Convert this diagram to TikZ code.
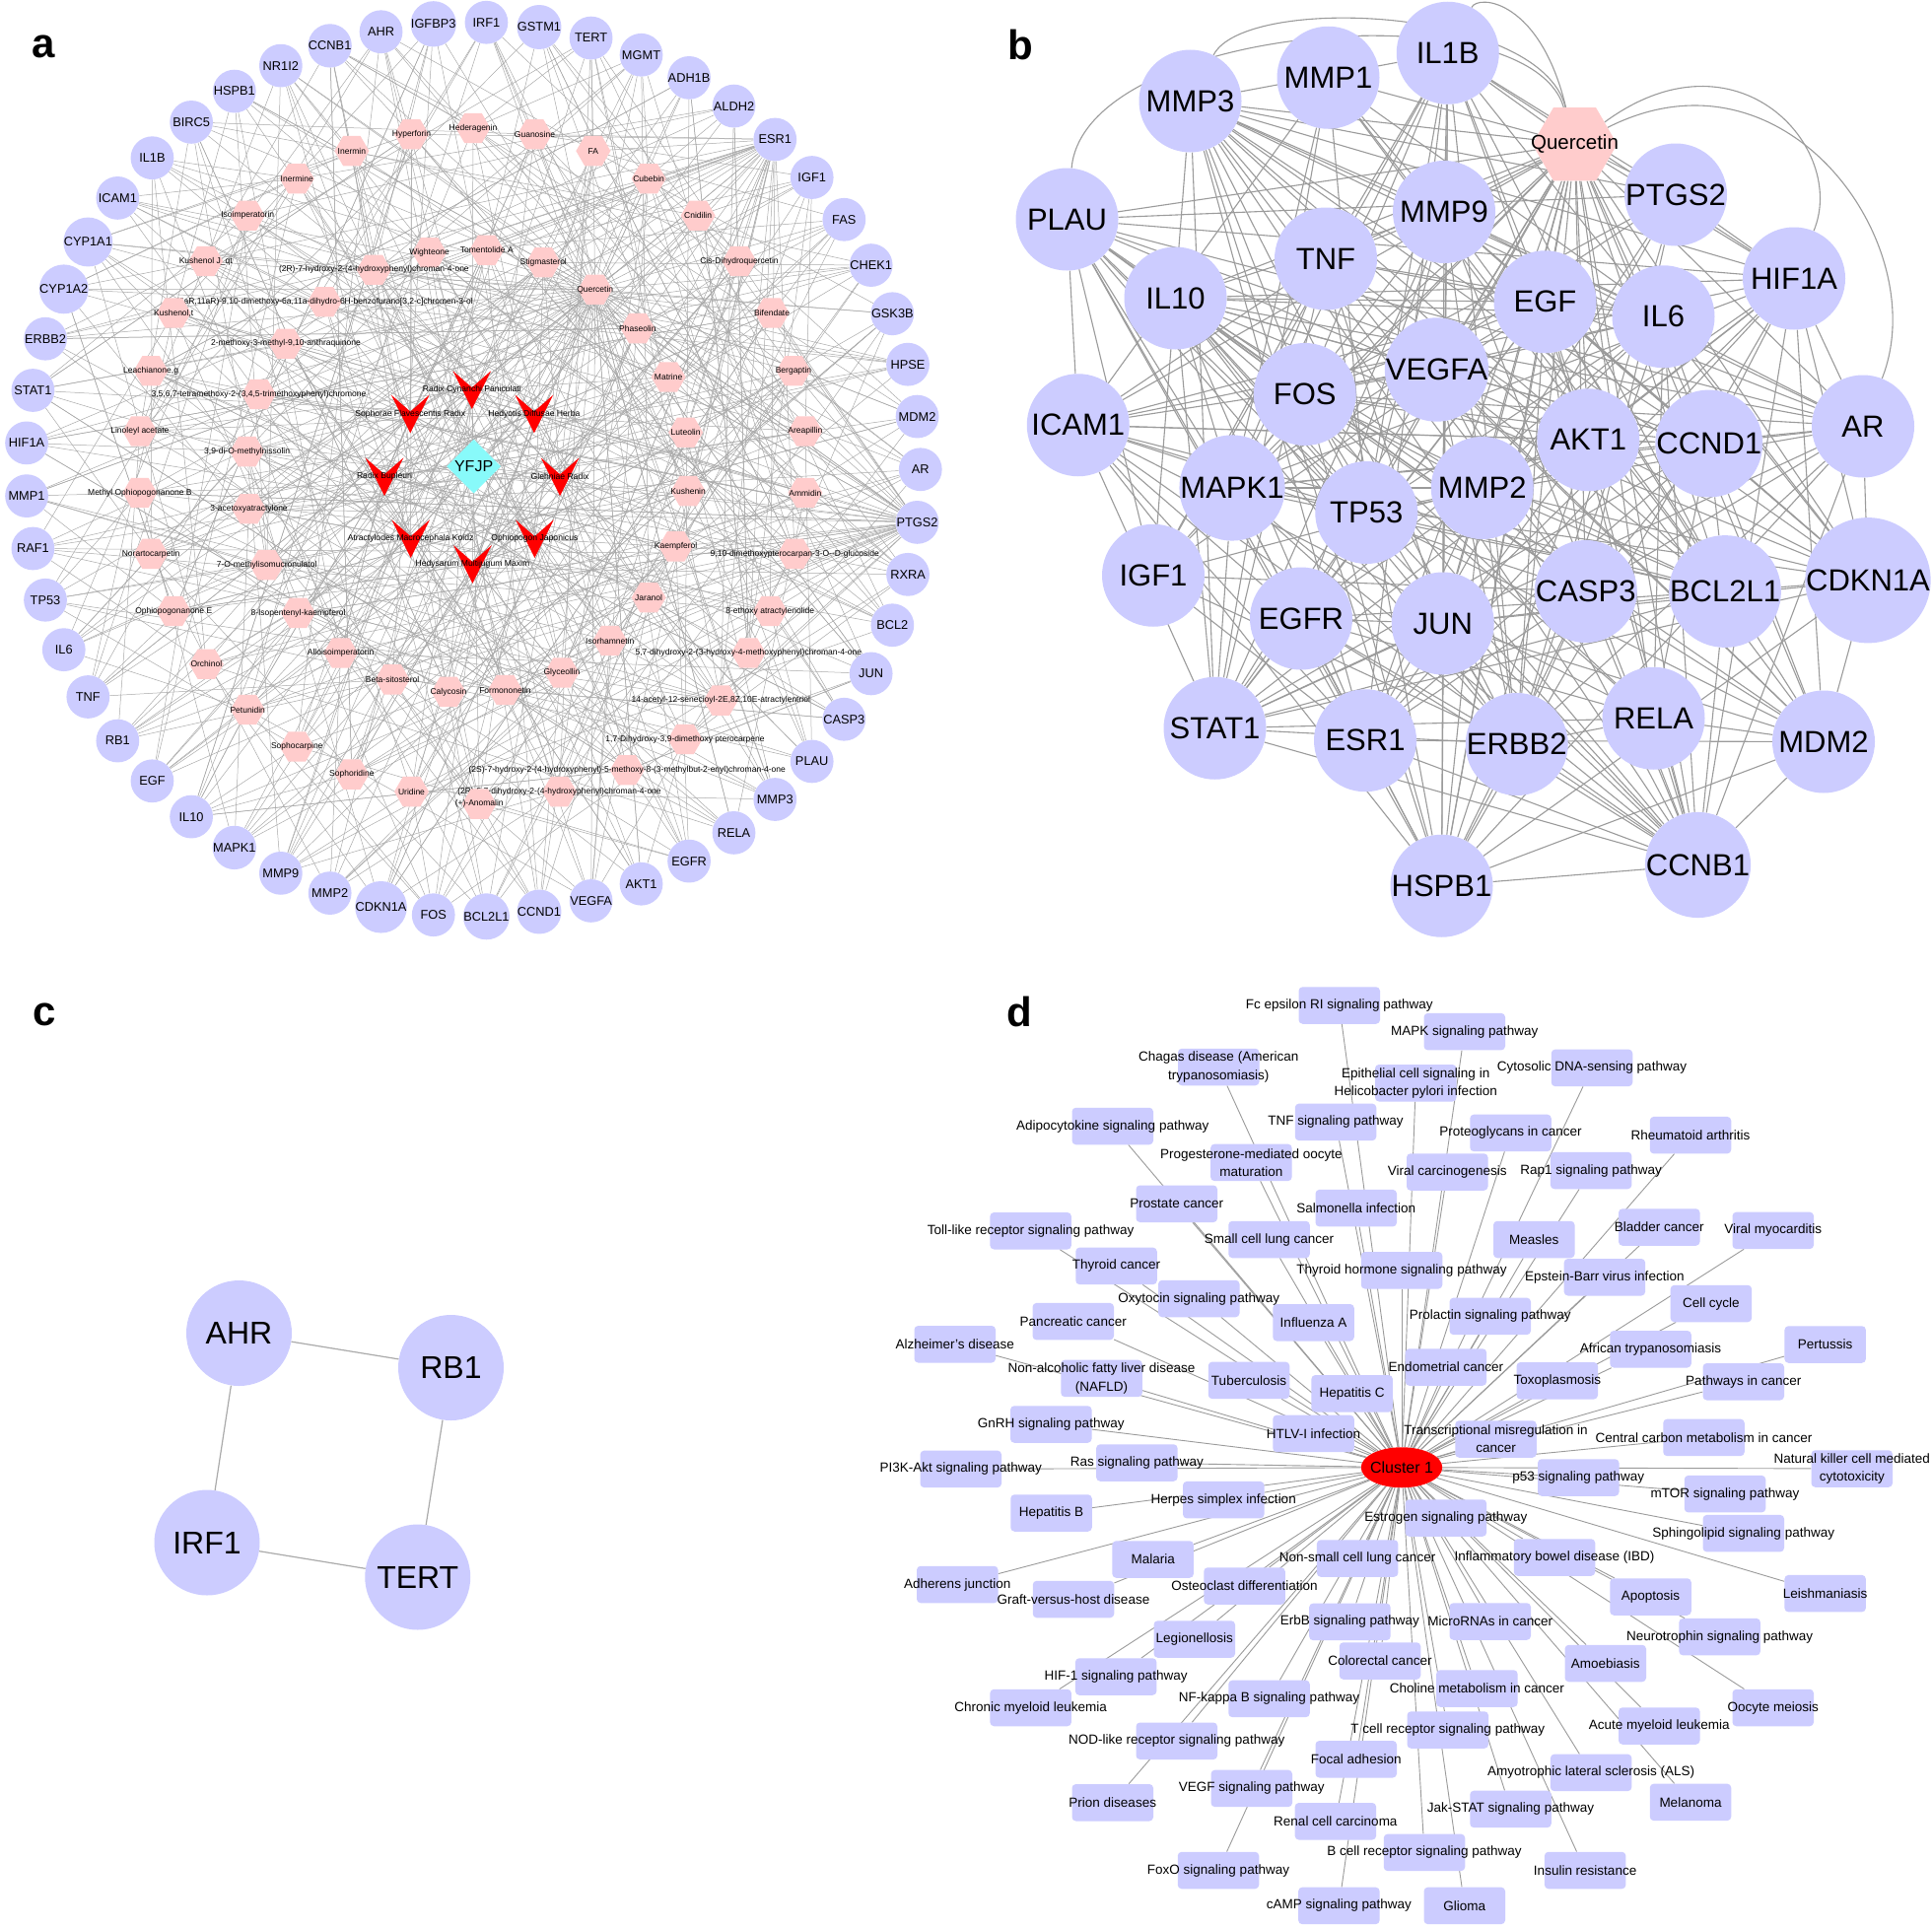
\documentclass[tikz,border=0pt]{standalone}
\usepackage{fontspec}
\setmainfont{Liberation Sans}
\usetikzlibrary{shapes.geometric,backgrounds}
\definecolor{lav}{RGB}{204,204,255}
\definecolor{pnk}{RGB}{255,204,204}
\definecolor{cyn}{RGB}{136,250,250}
\definecolor{hred}{RGB}{255,0,0}
\definecolor{egray}{RGB}{170,170,170}
\definecolor{bgray}{RGB}{155,155,155}
\begin{document}
\begin{tikzpicture}[x=1.25pt,y=-1.25pt,
  tnode/.style={circle,fill=lav,minimum size=43.75pt,inner sep=0pt,font=\fontsize{12.8}{13}\selectfont},
  hexa/.style={regular polygon,regular polygon sides=6,fill=pnk,minimum size=35pt,inner sep=0pt},
  clbl/.style={font=\fontsize{8.5}{9}\selectfont,inner sep=0pt},
  hlbl/.style={font=\fontsize{8.6}{9}\selectfont,inner sep=0pt},
  aedge/.style={draw=egray,line width=0.5pt},
  bnode/.style={circle,fill=lav,minimum size=104pt,inner sep=0pt,font=\fontsize{31}{32}\selectfont},
  bedge/.style={draw=bgray,line width=1.1pt},
  cnode/.style={circle,fill=lav,minimum size=107pt,inner sep=0pt,font=\fontsize{32}{33}\selectfont},
  cedge/.style={draw=egray,line width=1.2pt},
  dbox/.style={rectangle,rounded corners=4pt,fill=lav,minimum width=82.5pt,minimum height=37.5pt,inner sep=0pt},
  dlbl/.style={font=\fontsize{13.5}{18.3}\selectfont,align=center,inner sep=0pt},
  dedge/.style={draw=bgray,line width=0.9pt},
  plbl/.style={font=\fontsize{42}{42}\selectfont\bfseries,anchor=base west,inner sep=0pt}
]
\useasboundingbox (0,0) rectangle (1568,1565);
\begin{pgfonlayer}{background}
\fill[white] (0,0) rectangle (1568,1565);
\end{pgfonlayer}

% ---------- panel letters
\node[plbl] (la) at (26,47) {a};
\node[plbl] (lb) at (818,48) {b};
\node[plbl] (lc) at (27,832) {c};
\node[plbl] (ld) at (817,833) {d};

% ---------- panel a : targets
\foreach \n [count=\k from 0] in {AR,MDM2,HPSE,GSK3B,CHEK1,FAS,IGF1,ESR1,ALDH2,ADH1B,MGMT,TERT,GSTM1,IRF1,IGFBP3,AHR,CCNB1,NR1I2,HSPB1,BIRC5,IL1B,ICAM1,CYP1A1,CYP1A2,ERBB2,STAT1,HIF1A,MMP1,RAF1,TP53,IL6,TNF,RB1,EGF,IL10,MAPK1,MMP9,MMP2,CDKN1A,FOS,BCL2L1,CCND1,VEGFA,AKT1,EGFR,RELA,MMP3,PLAU,CASP3,JUN,BCL2,RXRA,PTGS2}{
  \pgfmathsetmacro\ang{\k*6.792453}
  \node[tnode] (t\k) at ({384+363*cos(\ang)},{381-363*sin(\ang)}) {\n};
}

% ---------- panel a : compounds
\foreach \x/\y/\lab [count=\k] in {
334/109/{Hyperforin},
384/104/{Hederagenin},
434/109/{Guanosine},
481.5/122.5/{FA},
285.5/122.5/{Inermin},
241/145/{Inermine},
526.5/145/{Cubebin},
201/175/{Isoimperatorin},
566.5/175/{Cnidilin},
348.5/205/{Wighteone},
395/203/{Tomentolide A},
441/213/{Stigmasterol},
167/212/{Kushenol J\_qt},
303.5/219/{(2R)-7-hydroxy-2-(4-hydroxyphenyl)chroman-4-one},
600/212/{Cis-Dihydroquercetin},
483/235/{Quercetin},
263.5/245/{(6aR,11aR)-9,10-dimethoxy-6a,11a-dihydro-6H-benzofurano[3,2-c]chromen-3-ol},
141/254/{Kushenol,t},
626.5/254/{Bifendate},
517.5/266.5/{Phaseolin},
232/279/{2-methoxy-3-methyl-9,10-anthraquinone},
122.5/301/{Leachianone,g},
644/301/{Bergaptin},
542.5/306/{Matrine},
210/320/{3,5,6,7-tetramethoxy-2-(3,4,5-trimethoxyphenyl)chromone},
113.5/350/{Linoleyl acetate},
556.5/351/{Luteolin},
653.5/350/{Areapillin},
200.5/366.5/{3,9-di-O-methylnissolin},
113.5/400/{Methyl Ophiopogonanone B},
558.5/398.5/{Kushenin},
653.5/400/{Ammidin},
202/413/{3-acetoxyatractylone},
122.5/449.5/{Norartocarpetin},
548.5/443.5/{Kaempferol},
645/449.5/{9,10-dimethoxypterocarpan-3-O-{}-D-glucoside},
216.5/458.5/{7-O-methylisomucronulatol},
526.5/485/{Jaranol},
141/496/{Ophiopogonanone E},
242/497.5/{8-Isopentenyl-kaempferol},
625/496/{8-ethoxy atractylenolide},
495/520/{Isorhamnetin},
276.5/530/{Alloisoimperatorin},
607.5/530/{5,7-dihydroxy-2-(3-hydroxy-4-methoxyphenyl)chroman-4-one},
167.5/539/{Orchinol},
318.5/551.5/{Beta-sitosterol},
456/546/{Glyceollin},
364/561.5/{Calycosin},
410/560/{Formononetin},
585/568.5/{14-acetyl-12-senecioyl-2E,8Z,10E-atractylentriol},
201/576/{Petunidin},
556/600/{1,7-Dihydroxy-3,9-dimethoxy pterocarpene},
241/606/{Sophocarpine},
509/625/{(2S)-7-hydroxy-2-(4-hydroxyphenyl)-5-methoxy-8-(3-methylbut-2-enyl)chroman-4-one},
285.5/628.5/{Sophoridine},
334/642.5/{Uridine},
454/642.5/{(2R)-5,7-dihydroxy-2-(4-hydroxyphenyl)chroman-4-one},
389/652.5/{(+)-Anomalin}}{
  \node[hexa,label={[clbl]center:\lab}] (c\k) at (\x,\y) {};
}

% ---------- panel a : herbs and formula
\node[diamond,fill=cyn,minimum width=55pt,minimum height=55pt,inner sep=0pt,
      label={[font=\fontsize{16}{16}\selectfont,inner sep=0pt]center:YFJP}] (yfjp) at (384.5,378.5) {};
\foreach \n/\x/\y/\lab in {
h1/383/316.5/{Radix Cynanchi Paniculati},
h2/333/336/{Sophorae Flavescentis Radix},
h3/433.5/336/{Hedyotis Diffusae Herba},
h4/312/387/{Radix Bupleuri},
h5/454.5/387/{Glehniae Radix},
h6/333.3/437.3/{Atractylodes Macrocephala Koidz},
h7/433.9/437.3/{Ophiopogon Japonicus},
h8/383.5/458/{Hedysarum Multijugum Maxim}}{
  \coordinate (\n) at (\x,\y);
  \fill[hred,shift={(\n)}] (-15.5,-15.5) -- (0,-2) -- (15.5,-15.5) -- (0,15.5) -- cycle;
  \node[hlbl] (l\n) at (\n) {\lab};
}

% ---------- panel b
\node[regular polygon,regular polygon sides=6,fill=pnk,minimum size=86pt,inner sep=0pt,
      label={[font=\fontsize{20.5}{21}\selectfont,inner sep=0pt]center:Quercetin}] (bq) at (1278,117) {};
\foreach \n/\x/\y [count=\k] in {MMP3/966/82,MMP1/1078/63,IL1B/1175/43,PTGS2/1360/158,PLAU/866/178,
  MMP9/1172/172,TNF/1076/210,IL10/954/242,EGF/1254/245,IL6/1350/257,HIF1A/1456/226,FOS/1059/320,
  VEGFA/1166/300,ICAM1/875/345,AKT1/1289/357,CCND1/1387/360,AR/1512/346,MAPK1/1000/396,TP53/1109/416,
  MMP2/1203/396,IGF1/936/467,CASP3/1287/480,BCL2L1/1400/480,CDKN1A/1516/471,EGFR/1056/502,JUN/1171/506,
  STAT1/986/591,ESR1/1108/601,ERBB2/1231/604,RELA/1342/583,MDM2/1480/602,HSPB1/1170/719,CCNB1/1378/702}{
  \node[bnode] (b\k) at (\x,\y) {\n};
}

% ---------- panel c
\node[cnode] (cAHR) at (194,1082) {AHR};
\node[cnode] (cRB1) at (366,1110) {RB1};
\node[cnode] (cIRF1) at (168,1252) {IRF1};
\node[cnode] (cTERT) at (339,1280) {TERT};

% ---------- panel d
\node[ellipse,fill=hred,minimum width=82.5pt,minimum height=41pt,inner sep=0pt,
      label={[font=\fontsize{16}{16}\selectfont,inner sep=0pt]center:Cluster 1}] (cl) at (1137.6,1191) {};
\foreach \x/\y/\lab [count=\k] in {
1087/816/{Fc epsilon RI signaling pathway},
989/866/{Chagas disease (American\\trypanosomiasis)},
903/914/{Adipocytokine signaling pathway},
1015.5/943.5/{Progesterone-mediated oocyte\\maturation},
955/977/{Prostate cancer},
836.5/999/{Toll-like receptor signaling pathway},
1030/1006/{Small cell lung cancer},
906/1027.5/{Thyroid cancer},
973/1054/{Oxytocin signaling pathway},
871/1072.5/{Pancreatic cancer},
1066/1073.4/{Influenza A},
775/1091/{Alzheimer's disease},
894/1118.7/{Non-alcoholic fatty liver disease\\(NAFLD)},
1013.6/1120.3/{Tuberculosis},
1097.3/1131/{Hepatitis C},
853/1156/{GnRH signaling pathway},
1066/1163.5/{HTLV-I infection},
1149/879/{Epithelial cell signaling in\\Helicobacter pylori infection},
1084/910.7/{TNF signaling pathway},
1100.6/980.5/{Salmonella infection},
1137.6/1031/{Thyroid hormone signaling pathway},
1188.6/837.3/{MAPK signaling pathway},
1292/866.7/{Cytosolic DNA-sensing pathway},
1226/919.5/{Proteoglycans in cancer},
1372/921.3/{Rheumatoid arthritis},
1174.6/951.2/{Viral carcinogenesis},
1291.3/950/{Rap1 signaling pathway},
1245/1006/{Measles},
1346.6/996/{Bladder cancer},
1439/998.7/{Viral myocarditis},
1302.3/1036.6/{Epstein-Barr virus infection},
1388.7/1058/{Cell cycle},
1209.4/1068.3/{Prolactin signaling pathway},
1173.5/1109.6/{Endometrial cancer},
1339.6/1095/{African trypanosomiasis},
1481.3/1091.2/{Pertussis},
1263.8/1120.6/{Toxoplasmosis},
1415/1121.4/{Pathways in cancer},
1214/1168/{Transcriptional misregulation in\\cancer},
1382.8/1166.7/{Central carbon metabolism in cancer},
779.8/1192.3/{PI3K-Akt signaling pathway},
922.7/1187.2/{Ras signaling pathway},
853.2/1228/{Hepatitis B},
993/1217.3/{Herpes simplex infection},
935.7/1265.6/{Malaria},
777/1286/{Adherens junction},
871.2/1298/{Graft-versus-host disease},
1010/1287.2/{Osteoclast differentiation},
1101.7/1264.8/{Non-small cell lung cancer},
1095.5/1316.3/{ErbB signaling pathway},
969.4/1330.4/{Legionellosis},
1120/1348/{Colorectal cancer},
905.7/1360.8/{HIF-1 signaling pathway},
836.5/1386/{Chronic myeloid leukemia},
1030/1378.7/{NF-kappa B signaling pathway},
955/1413/{NOD-like receptor signaling pathway},
903/1463/{Prion diseases},
1015.8/1451.5/{VEGF signaling pathway},
1100.6/1427.8/{Focal adhesion},
1083.9/1478.2/{Renal cell carcinoma},
988.8/1518/{FoxO signaling pathway},
1086.7/1546.7/{cAMP signaling pathway},
1175/1404/{T cell receptor signaling pathway},
1503/1192/{Natural killer cell mediated\\cytotoxicity},
1281/1199.2/{p53 signaling pathway},
1400/1212.5/{mTOR signaling pathway},
1415/1244.5/{Sphingolipid signaling pathway},
1173.5/1232/{Estrogen signaling pathway},
1261.6/1264/{Inflammatory bowel disease (IBD)},
1481.3/1293.3/{Leishmaniasis},
1339.6/1296/{Apoptosis},
1209.4/1316/{MicroRNAs in cancer},
1395.7/1328.5/{Neurotrophin signaling pathway},
1303/1350/{Amoebiasis},
1198.7/1370.4/{Choline metabolism in cancer},
1439/1386/{Oocyte meiosis},
1346.6/1400.8/{Acute myeloid leukemia},
1291.3/1438.7/{Amyotrophic lateral sclerosis (ALS)},
1372/1462.7/{Melanoma},
1226/1468.3/{Jak-STAT signaling pathway},
1156/1503.5/{B cell receptor signaling pathway},
1286.5/1518/{Insulin resistance},
1188.6/1546.7/{Glioma}}{
  \node[dbox,label={[dlbl]center:\lab}] (d\k) at (\x,\y) {};
}

% ================= connectors (behind nodes)
\begin{pgfonlayer}{background}
% panel a
\foreach \i in {1,...,8} \draw[aedge] (yfjp) -- (h\i);
\foreach \k in {1,...,58}{
  \pgfmathtruncatemacro\hA{mod(\k,8)+1}
  \pgfmathtruncatemacro\hB{mod(\k*3+2,8)+1}
  \draw[aedge] (h\hA) -- (c\k);
  \draw[aedge] (h\hB) -- (c\k);
  \foreach \rr in {1,...,7}{
    \pgfmathtruncatemacro\tg{mod(\k*17+\rr*29+\k*\rr*\rr*3,53)}
    \draw[aedge] (c\k) -- (t\tg);
  }
  \pgfmathtruncatemacro\fA{mod(\k*7,10)<6}
  \ifnum\fA=1 \draw[aedge] (c\k) -- (t52);\fi
  \pgfmathtruncatemacro\fB{mod(\k*3,10)<4}
  \ifnum\fB=1 \draw[aedge] (c\k) -- (t7);\fi
}
\foreach \rr in {0,...,52} \draw[aedge] (c16) -- (t\rr);
% panel b
\foreach \i in {1,...,32}{
  \pgfmathtruncatemacro\jst{\i+1}
  \foreach \j in {\jst,...,33}{
    \pgfmathtruncatemacro\flag{mod(\i*\i*3+\j*\j*5+\i*\j,17)<8}
    \ifnum\flag=1 \draw[bedge] (b\i) -- (b\j);\fi
  }
}
\foreach \i in {1,...,33} \draw[bedge] (bq) -- (b\i);
\draw[bedge] (bq) .. controls (1250,5) and (1010,-5) .. (b1);
\draw[bedge] (bq) .. controls (1240,-10) and (880,20) .. (b5);
\draw[bedge] (bq) .. controls (1410,20) and (1500,120) .. (b11);
\draw[bedge] (bq) .. controls (1450,30) and (1570,200) .. (b17);
\draw[bedge] (bq) .. controls (1250,0) and (1200,-5) .. (b3);
% panel c
\draw[cedge] (cAHR) -- (cRB1);
\draw[cedge] (cAHR) -- (cIRF1);
\draw[cedge] (cIRF1) -- (cTERT);
\draw[cedge] (cRB1) -- (cTERT);
% panel d
\foreach \k in {1,...,83} \draw[dedge] (d\k) -- (cl);
\end{pgfonlayer}
\end{tikzpicture}
\end{document}
